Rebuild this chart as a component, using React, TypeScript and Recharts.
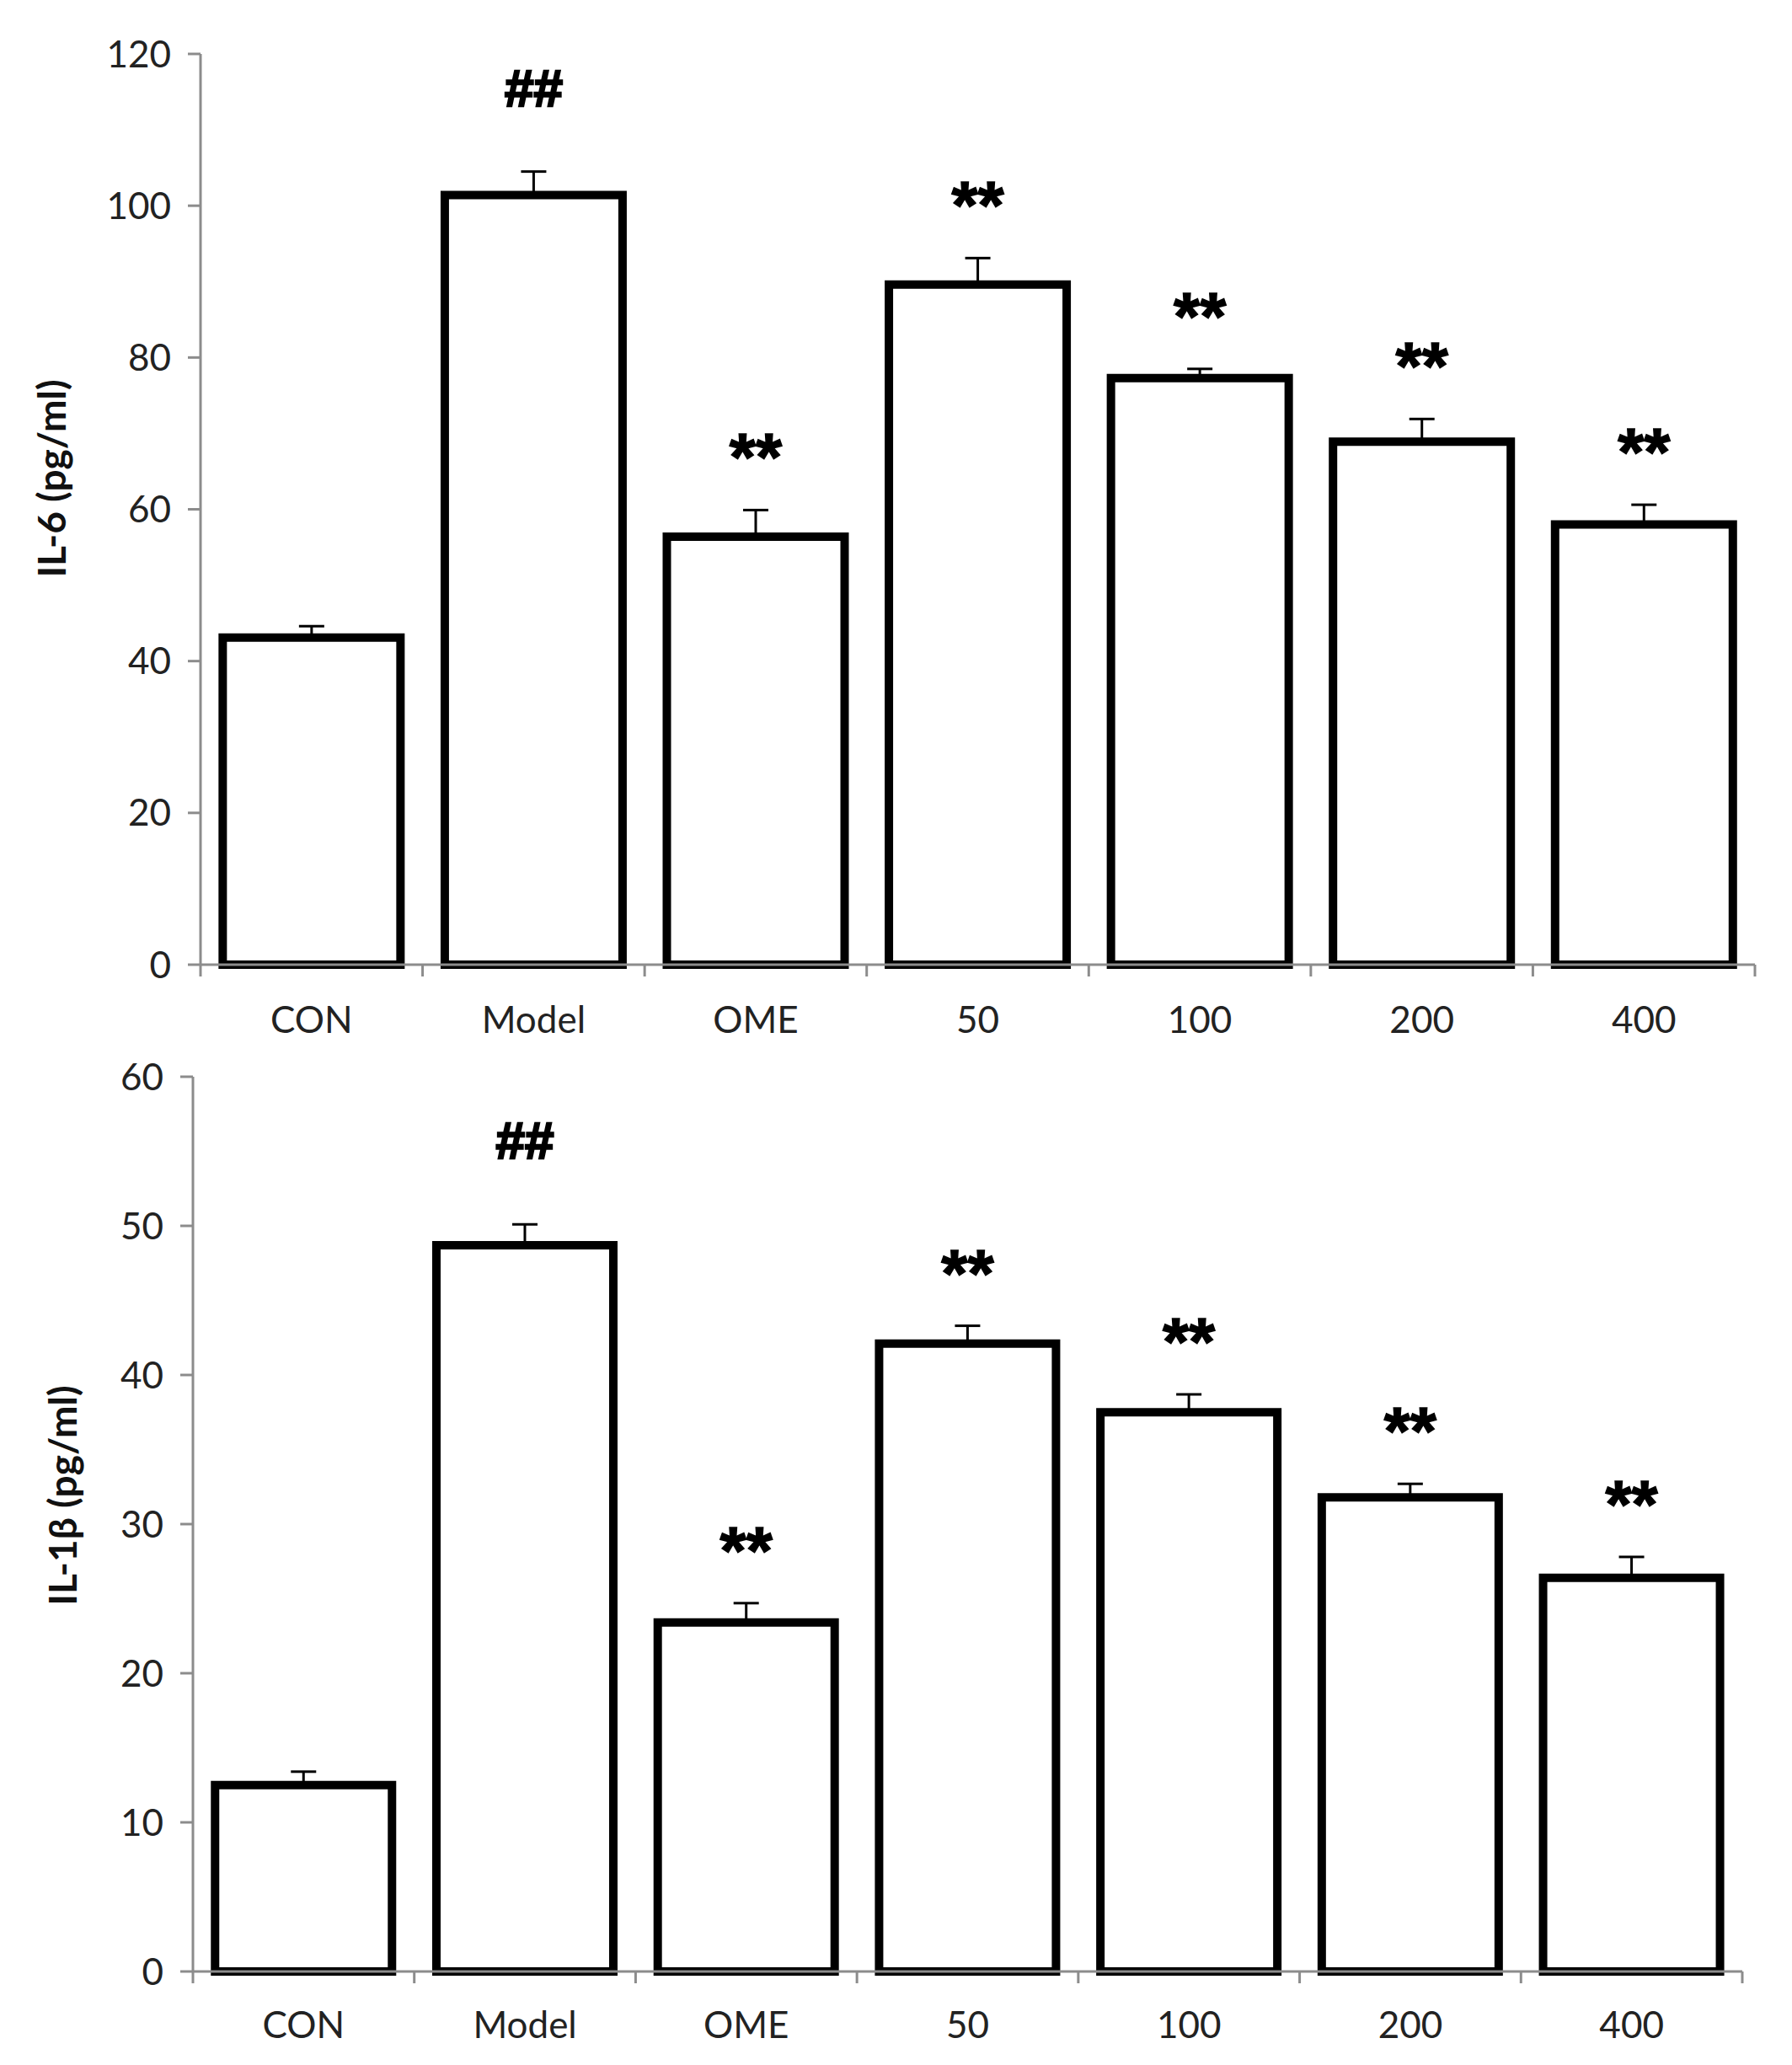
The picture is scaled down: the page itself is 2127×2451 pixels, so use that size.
import React from 'react';
import { BarChart, Bar, XAxis, YAxis, ErrorBar, LabelList } from 'recharts';

const categories = ['CON', 'Model', 'OME', '50', '100', '200', '400'];
const il6Values = [43.1, 101.4, 56.4, 89.6, 77.3, 68.9, 58.0];
const il6Errors = [1.5, 3.1, 3.5, 3.5, 1.2, 3.0, 2.6];
const il1bValues = [12.5, 48.7, 23.4, 42.1, 37.5, 31.8, 26.4];
const il1bErrors = [0.9, 1.4, 1.3, 1.2, 1.2, 0.9, 1.4];
const marks = ['', '##', '**', '**', '**', '**', '**'];
const il6Ticks = [0, 20, 40, 60, 80, 100, 120];
const il1bTicks = [0, 10, 20, 30, 40, 50, 60];

const AXIS = '#8c8c8c';
const FONT = 'Lato, sans-serif';
const TICK = { fill: '#222', fontSize: 44, fontFamily: FONT };
const Y_WIDTH = 130;

function buildRows(values: number[], errors: number[]) {
  return categories.map((name, i) => ({
    name,
    value: values[i],
    err: [0, errors[i]],
    mark: marks[i],
  }));
}

// significance marks above the error bar caps
function markRenderer(values: number[], errors: number[]) {
  return (props: any) => {
    const { x, y, width, height, index } = props;
    const mark = marks[index];
    if (!mark) return null;
    const perUnit = height / values[index];
    const capY = y - errors[index] * perUnit;
    const isHash = mark === '##';
    return (
      <text
        x={x + width / 2}
        y={isHash ? capY - 78 : capY - 35}
        textAnchor="middle"
        fontFamily="'Liberation Sans', Arial, sans-serif"
        fontWeight="bold"
        fontSize={isHash ? 62 : 80}
        fill="#000"
        stroke="#000"
        strokeWidth={isHash ? 2.5 : 1.5}
      >
        {mark}
      </text>
    );
  };
}

// category label plus tick marks on the category boundaries
function categoryTick(band: number, labelDy: number) {
  return (props: any) => {
    const { x, y, payload, index } = props;
    const left = x - band / 2;
    const right = x + band / 2;
    return (
      <g>
        <line x1={left} x2={left} y1={y} y2={y + 14} stroke={AXIS} strokeWidth={3} />
        {index === categories.length - 1 && (
          <line x1={right} x2={right} y1={y} y2={y + 14} stroke={AXIS} strokeWidth={3} />
        )}
        <text
          x={x}
          y={y + labelDy}
          textAnchor="middle"
          dominantBaseline="central"
          fill={TICK.fill}
          fontSize={TICK.fontSize}
          fontFamily={FONT}
        >
          {payload.value}
        </text>
      </g>
    );
  };
}

function Panel({
  values, errors, ticks, max, title, titleX, titleY, labelDy, width, height, margin,
}: {
  values: number[]; errors: number[]; ticks: number[]; max: number;
  title: string; titleX: number; titleY: number; labelDy: number; width: number; height: number;
  margin: { top: number; right: number; left: number; bottom: number };
}) {
  const rows = buildRows(values, errors);
  const band = (width - margin.left - margin.right - Y_WIDTH) / categories.length;
  return (
    <BarChart width={width} height={height} data={rows} margin={margin} barCategoryGap="10%">
      <XAxis
        dataKey="name"
        stroke={AXIS}
        strokeWidth={3}
        tickLine={false}
        tickSize={0}
        tickMargin={0}
        height={94}
        tick={categoryTick(band, labelDy)}
        interval={0}
      />
      <YAxis
        type="number"
        domain={[0, max]}
        ticks={ticks}
        interval={0}
        width={Y_WIDTH}
        tickSize={15}
        tickMargin={20}
        stroke={AXIS}
        strokeWidth={3}
        tick={TICK}
        label={{
          content: () => (
            <text
              x={0}
              y={0}
              transform={`translate(${titleX}, ${titleY}) rotate(-90)`}
              textAnchor="middle"
              dominantBaseline="central"
              fontFamily={FONT}
              fontWeight="bold"
              fontSize={46}
              fill="#111"
            >
              {title}
            </text>
          ),
        }}
      />
      <Bar dataKey="value" fill="#fff" stroke="#000" strokeWidth={10} isAnimationActive={false}>
        <ErrorBar dataKey="err" direction="y" width={15} stroke="#000" strokeWidth={3} />
        <LabelList dataKey="mark" content={markRenderer(values, errors)} />
      </Bar>
    </BarChart>
  );
}

export default function App() {
  return (
    <div style={{ position: 'absolute', left: 0, top: 0, width: 2127, height: 2451, background: '#fff' }}>
      <div style={{ position: 'absolute', left: 0, top: 0 }}>
        <Panel
          values={il6Values}
          errors={il6Errors}
          ticks={il6Ticks}
          max={120}
          title="IL-6 (pg/ml)"
          titleX={60}
          titleY={568}
          labelDy={64}
          width={2127}
          height={1240}
          margin={{ top: 64, right: 44, left: 108, bottom: 1 }}
        />
      </div>
      <div style={{ position: 'absolute', left: 0, top: 1240 }}>
        <Panel
          values={il1bValues}
          errors={il1bErrors}
          ticks={il1bTicks}
          max={60}
          title="IL-1β (pg/ml)"
          titleX={73}
          titleY={535}
          labelDy={62}
          width={2127}
          height={1211}
          margin={{ top: 38, right: 59, left: 99, bottom: 17 }}
        />
      </div>
    </div>
  );
}
